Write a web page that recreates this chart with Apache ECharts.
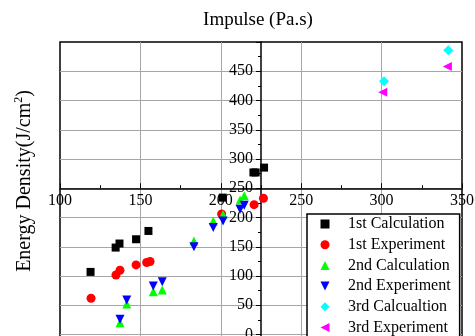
<!DOCTYPE html>
<html>
<head>
<meta charset="utf-8">
<style>
  html, body { margin: 0; padding: 0; background: #fff; }
  #chart { width: 475px; height: 336px; }
</style>
<script src="https://cdn.jsdelivr.net/npm/echarts@6/dist/echarts.min.js"></script>
</head>
<body>
<div id="chart"></div>
<script>
// Impulse (Pa.s) vs. energy density, three test rounds
const seriesNames = ['1st Calculation', '1st Experiment', '2nd Calculation',
                     '2nd Experiment', '3rd Calcualtion', '3rd Experiment'];

const calc1X = [119, 134.6, 137, 147.3, 155, 201.2, 220.3, 221.7, 226.9];
const calc1Y = [107, 148.6, 155.5, 162.8, 177, 234, 277, 277, 285.3];

const exp1X = [119.3, 134.8, 137.3, 147.3, 153.9, 156, 200.5, 220.7, 226.5];
const exp1Y = [62, 101.8, 109.8, 119, 123, 124.7, 206, 222, 233];

const calc2X = [137.3, 141.5, 158, 163.6, 183.3, 195.3, 201.4, 212, 214.6];
const calc2Y = [20, 52, 73, 76, 160, 194, 205, 230, 237];

const exp2X = [137.3, 141.5, 158, 163.6, 183.3, 195.3, 201.4, 212, 214.6];
const exp2Y = [26, 59, 83, 90, 150, 183, 194, 214, 221];

const calc3X = [301.5, 341.5];
const calc3Y = [433, 486];

const exp3X = [300.7, 340.9];
const exp3Y = [414, 458];

const xTicks = [100, 150, 200, 250, 300, 350];
const yTicks = [0, 50, 100, 150, 200, 250, 300, 350, 400, 450];

const FONT = 'Liberation Serif, Times New Roman, serif';

function pairs(xs, ys) { return xs.map((x, i) => [x, ys[i]]); }

// plot frame geometry (the frame runs past the bottom edge of the canvas)
const gridLeft = 60, gridTop = 42, gridRight = 13;
const plotW = 475 - gridLeft - gridRight;
const yMin = -50, yMax = 500, xMin = 100, xMax = 350;
const pxPerY = 292.5 / 500;
const plotH = (yMax - yMin) * pxPerY;
// axes cross at x = 225, y = 250
const xCross = 225, yCross = 250;
const yAxisOffset = -((xCross - xMin) / (xMax - xMin)) * plotW;
const xAxisOffset = -((yCross - yMin) * pxPerY);

const chart = echarts.init(document.getElementById('chart'), null, { renderer: 'canvas' });

const symbolDefs = [
  { symbol: 'rect', size: 8, rotate: 0, color: '#000000', icon: 'rect' },
  { symbol: 'circle', size: 9, rotate: 0, color: '#ff0000', icon: 'circle' },
  { symbol: 'triangle', size: 9, rotate: 0, color: '#00ff00', icon: 'triangle' },
  { symbol: 'triangle', size: 9, rotate: 180, color: '#0000ff', icon: 'path://M0,0L10,0L5,10Z' },
  { symbol: 'diamond', size: 10, rotate: 0, color: '#00ffff', icon: 'diamond' },
  { symbol: 'triangle', size: 9, rotate: 90, color: '#ff00ff', icon: 'path://M10,0L10,10L0,5Z' }
];
const dataSets = [
  pairs(calc1X, calc1Y), pairs(exp1X, exp1Y),
  pairs(calc2X, calc2Y), pairs(exp2X, exp2Y),
  pairs(calc3X, calc3Y), pairs(exp3X, exp3Y)
];

chart.setOption({
  animation: false,
  backgroundColor: '#ffffff',
  grid: {
    left: gridLeft, top: gridTop, width: plotW, height: plotH,
    outerBoundsMode: 'none', containLabel: false,
    show: true, borderColor: '#000', borderWidth: 1.5, backgroundColor: '#fff'
  },
  xAxis: {
    type: 'value', min: xMin, max: xMax, interval: 50,
    position: 'bottom', offset: xAxisOffset, z: 1,
    axisLine: { onZero: false, lineStyle: { color: '#000', width: 1.5 } },
    axisTick: { inside: true, length: 5, lineStyle: { color: '#000', width: 1 } },
    minorTick: { show: true, splitNumber: 2, length: 3, lineStyle: { color: '#000', width: 1 } },
    axisLabel: {
      margin: 5, fontSize: 16, color: '#000', fontFamily: FONT,
      formatter: v => (xTicks.indexOf(v) >= 0 ? String(v) : '')
    },
    splitLine: { show: true, showMinLine: false, showMaxLine: false,
                 lineStyle: { color: '#a6a6a6', width: 1 } }
  },
  yAxis: {
    type: 'value', min: yMin, max: yMax, interval: 50,
    position: 'left', offset: yAxisOffset, z: 0.5,
    axisLine: { onZero: false, lineStyle: { color: '#000', width: 1.5 } },
    axisTick: { inside: false, length: 5, lineStyle: { color: '#000', width: 1 } },
    minorTick: { show: true, splitNumber: 2, length: 3, lineStyle: { color: '#000', width: 1 } },
    axisLabel: {
      margin: 8, fontSize: 16, color: '#000', fontFamily: FONT,
      showMaxLabel: false,
      formatter: v => (yTicks.indexOf(v) >= 0 ? String(v) : '')
    },
    splitLine: { show: true, showMinLine: false, showMaxLine: false,
                 lineStyle: { color: '#a6a6a6', width: 1 } }
  },
  legend: {
    orient: 'vertical',
    left: 307, top: 214, height: 300,
    padding: [2, 9, 12, 13.5],
    itemWidth: 9, itemHeight: 9, itemGap: 4.7,
    backgroundColor: '#fff', borderColor: '#000', borderWidth: 1.5, borderRadius: 0,
    textStyle: { fontSize: 16, lineHeight: 16, color: '#000', fontFamily: FONT,
                 padding: [0, 0, 0, 13.5] },
    data: seriesNames.map((name, i) => ({ name: name, icon: symbolDefs[i].icon }))
  },
  graphic: [
    {
      type: 'text', x: 258, y: 20, z: 10,
      style: {
        text: 'Impulse (Pa.s)', fill: '#000',
        font: '19px ' + FONT, align: 'center', verticalAlign: 'middle'
      }
    },
    {
      type: 'text', x: 25, y: 181, rotation: Math.PI / 2, z: 10,
      style: {
        text: 'Energy Density(J/cm{sup|2})', fill: '#000',
        font: '20px ' + FONT, align: 'center', verticalAlign: 'middle',
        rich: {
          sup: { fontSize: 12, fontFamily: FONT, fill: '#000', padding: [0, 0, 13, 0] }
        }
      }
    }
  ],
  series: seriesNames.map((name, i) => ({
    name: name,
    type: 'scatter',
    symbol: symbolDefs[i].symbol,
    symbolSize: symbolDefs[i].size,
    symbolRotate: symbolDefs[i].rotate,
    itemStyle: { color: symbolDefs[i].color, opacity: 1 },
    z: 2 + i * 0.01,
    data: dataSets[i]
  }))
});
</script>
</body>
</html>
